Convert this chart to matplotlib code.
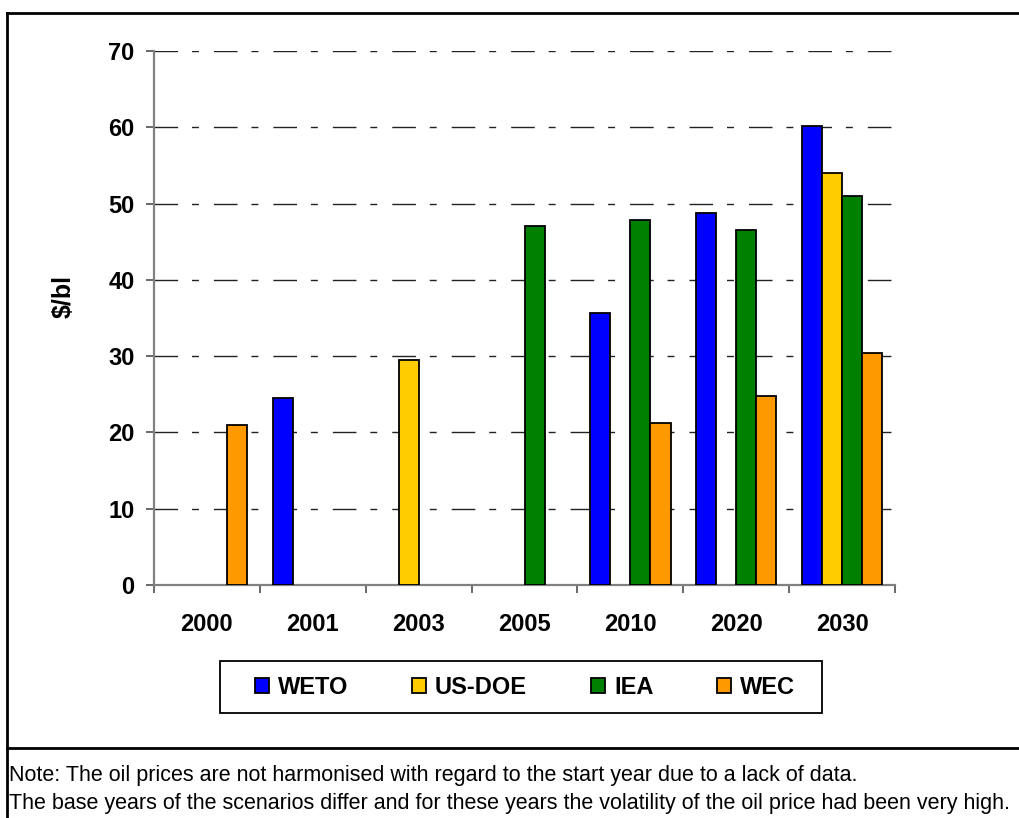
import numpy as np
import matplotlib
matplotlib.use("Agg")
import matplotlib.pyplot as plt
from matplotlib.lines import Line2D
from matplotlib.patches import Rectangle

plt.rcParams['font.family'] = ['Liberation Sans', 'DejaVu Sans']

# data
years = ["2000", "2001", "2003", "2005", "2010", "2020", "2030"]
series_names = ["WETO", "US-DOE", "IEA", "WEC"]
weto = [np.nan, 24.5, np.nan, np.nan, 35.6, 48.8, 60.2]
us_doe = [np.nan, np.nan, 29.5, np.nan, np.nan, np.nan, 54.0]
iea = [np.nan, np.nan, np.nan, 47.1, 47.8, 46.5, 51.0]
wec = [21.0, np.nan, np.nan, np.nan, 21.2, 24.8, 30.4]
colors = ["#0000FF", "#FFCC00", "#008000", "#FF9900"]

note_lines = [
    "Note: The oil prices are not harmonised with regard to the start year due to a lack of data.",
    "The base years of the scenarios differ and for these years the volatility of the oil price had been very high.",
]

W, H = 1019, 818
fig = plt.figure(figsize=(W / 100, H / 100), dpi=100)
ax = fig.add_axes([154 / W, 1 - 585 / H, 741 / W, 534 / H])

x = np.arange(len(years))
width = 0.19
for i, (vals, col, name) in enumerate(zip([weto, us_doe, iea, wec], colors, series_names)):
    ax.bar(x + (i - 1.5) * width, vals, width, color=col, edgecolor="black",
           linewidth=1.3, label=name, zorder=3)

ax.set_xlim(-0.5, len(years) - 0.5)
ax.set_ylim(0, 70)
ax.set_yticks(range(0, 71, 10))
ax.set_xticks(x)
ax.set_xticklabels(years)
ax.set_xticks(np.arange(-0.5, len(years)), minor=True)
ax.tick_params(axis="x", which="major", length=0, pad=20, labelsize=17)
ax.tick_params(axis="x", which="minor", length=5.8, width=1.1, color="#404040", direction="out")
ax.tick_params(axis="y", length=5.5, width=1.1, color="#404040", pad=8.5, labelsize=17)
for lab in ax.get_xticklabels() + ax.get_yticklabels():
    lab.set_fontweight("bold")

ax.grid(axis="y", color="#222222", linewidth=1, linestyle=(0, (17, 10, 5, 10.8)), zorder=0)
ax.set_axisbelow(True)

for side in ["top", "right"]:
    ax.spines[side].set_visible(False)
for side in ["left", "bottom"]:
    ax.spines[side].set_color("#808080")
    ax.spines[side].set_linewidth(1.6)

fig.text(64 / W, 1 - 297 / H, "\\$/bl", fontsize=18, fontweight="bold",
         rotation=90, ha="center", va="center")

# legend: box drawn separately so padding can match the original
fig.add_artist(Rectangle((220 / W, 1 - 713 / H), 602 / W, 52 / H, transform=fig.transFigure,
                         facecolor="white", edgecolor="black", linewidth=1.3, zorder=1))
leg = fig.legend(loc="center", bbox_to_anchor=(525 / W, 1 - 687 / H), ncol=4,
                 frameon=False, handlelength=0.6, handleheight=0.6, handletextpad=0.38,
                 columnspacing=2.7, prop={"size": 17, "weight": "bold"})
leg.set_zorder(2)
for h in leg.legend_handles:
    h.set_linewidth(1.3)

# outer frame and note separator
frame = dict(color="black", linewidth=2, transform=fig.transFigure)
fig.add_artist(Line2D([7 / W, 7 / W], [0, 1 - 13 / H], **frame))
fig.add_artist(Line2D([7 / W, 1.0], [1 - 13 / H, 1 - 13 / H], **frame))
fig.add_artist(Line2D([7 / W, 1.0], [1 - 748 / H, 1 - 748 / H], **frame))

for k, line in enumerate(note_lines):
    fig.text(9 / W, 1 - (776 + 28 * k) / H, line, fontsize=15.5,
             va="center", ha="left")

fig.savefig("out.png", dpi=100)
